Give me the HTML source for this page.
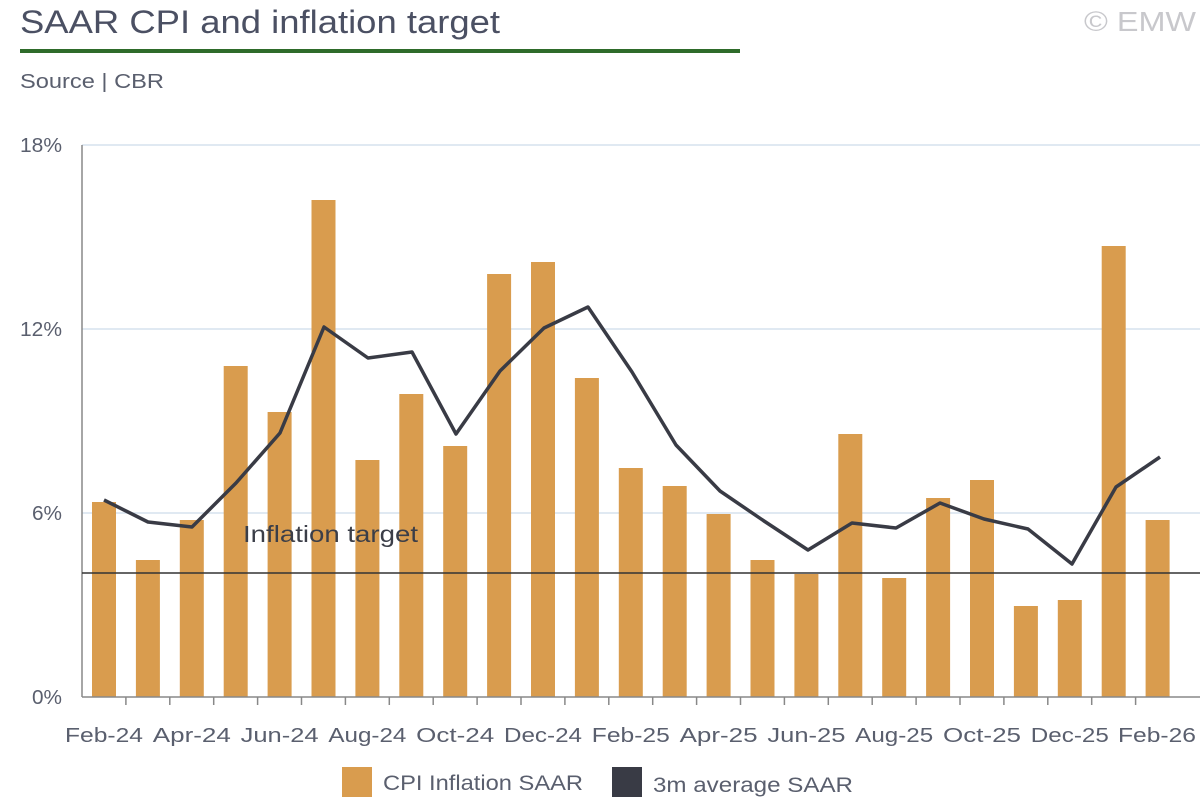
<!DOCTYPE html>
<html><head><meta charset="utf-8"><style>
body{margin:0;background:#fff;font-family:"Liberation Sans",sans-serif;}
</style></head><body>
<svg width="1200" height="800" xmlns="http://www.w3.org/2000/svg" font-family="Liberation Sans, sans-serif">
<rect width="1200" height="800" fill="#fff"/>
<text x="20" y="33" font-size="32" fill="#4b5063" textLength="480" lengthAdjust="spacingAndGlyphs">SAAR CPI and inflation target</text>
<text x="1196" y="31" font-size="28" fill="#c8c8cc" text-anchor="end" textLength="112" lengthAdjust="spacingAndGlyphs">© EMW</text>
<rect x="20" y="49" width="720" height="4" fill="#2e6b2a"/>
<text x="20" y="88" font-size="20" fill="#5a5f6e" textLength="144" lengthAdjust="spacingAndGlyphs">Source | CBR</text>
<g stroke="#d5e2ee" stroke-width="1.5">
<line x1="82" y1="145" x2="1200" y2="145"/><line x1="82" y1="329" x2="1200" y2="329"/><line x1="82" y1="513" x2="1200" y2="513"/>
</g>
<g font-size="20" fill="#5a5f6e" text-anchor="end">
<text x="62" y="152" textLength="42" lengthAdjust="spacingAndGlyphs">18%</text><text x="62" y="336" textLength="42" lengthAdjust="spacingAndGlyphs">12%</text><text x="62" y="520" textLength="30" lengthAdjust="spacingAndGlyphs">6%</text><text x="62" y="704" textLength="30" lengthAdjust="spacingAndGlyphs">0%</text>
</g>
<g fill="#d99c4e" id="bars"></g>
<line x1="82" y1="145" x2="82" y2="697" stroke="#888" stroke-width="1.5"/>
<line x1="82" y1="697" x2="1200" y2="697" stroke="#888" stroke-width="1.5"/>
<g id="ticks" stroke="#888" stroke-width="1.5"></g>
<line x1="82" y1="573" x2="1200" y2="573" stroke="#333" stroke-width="1.5"/>
<text x="243" y="542" font-size="23" fill="#3b3e48" textLength="175" lengthAdjust="spacingAndGlyphs">Inflation target</text>
<polyline fill="none" stroke="#393b45" stroke-width="3.5" stroke-linejoin="round" points="104,500 148,522 192,527 236,483 280,433 324,327 368,358 412,352 456,434 500,371 544,328 588,307 632,372 676,445 720,491 764,521 808,550 852,523 896,528 940,503 984,519 1028,529 1072,564 1116,487 1160,457"/>
<g id="xl" font-size="20" fill="#5a5f6e" text-anchor="middle"></g>
<rect x="342" y="767" width="30" height="30" fill="#d99c4e"/>
<text x="383" y="790" font-size="21" fill="#5a5f6e" textLength="200" lengthAdjust="spacingAndGlyphs">CPI Inflation SAAR</text>
<rect x="612" y="767" width="30" height="30" fill="#393b45"/>
<text x="653" y="792" font-size="21" fill="#5a5f6e" textLength="200" lengthAdjust="spacingAndGlyphs">3m average SAAR</text>
<script>
var tops=[502,560,520,366,412,200,460,394,446,274,262,378,468,486,514,560,574,434,578,498,480,606,600,246,520];
var b=document.getElementById('bars'),t=document.getElementById('ticks'),xl=document.getElementById('xl'),ns='http://www.w3.org/2000/svg';
var labs=['Feb-24','Apr-24','Jun-24','Aug-24','Oct-24','Dec-24','Feb-25','Apr-25','Jun-25','Aug-25','Oct-25','Dec-25','Feb-26'];
for(var i=0;i<25;i++){var cx=104+i*43.9;var r=document.createElementNS(ns,'rect');r.setAttribute('x',cx-12);r.setAttribute('y',tops[i]);r.setAttribute('width',24);r.setAttribute('height',697-tops[i]);b.appendChild(r);
var l=document.createElementNS(ns,'line');var tx=82+(i+1)*43.9;l.setAttribute('x1',tx);l.setAttribute('x2',tx);l.setAttribute('y1',697);l.setAttribute('y2',705);if(i<24)t.appendChild(l);
if(i%2==0){var s=document.createElementNS(ns,'text');s.setAttribute('x',i==24?1157:cx);s.setAttribute('y',742);s.setAttribute('textLength',78);s.setAttribute('lengthAdjust','spacingAndGlyphs');s.textContent=labs[i/2];xl.appendChild(s);}}
</script>
</svg>
</body></html>
